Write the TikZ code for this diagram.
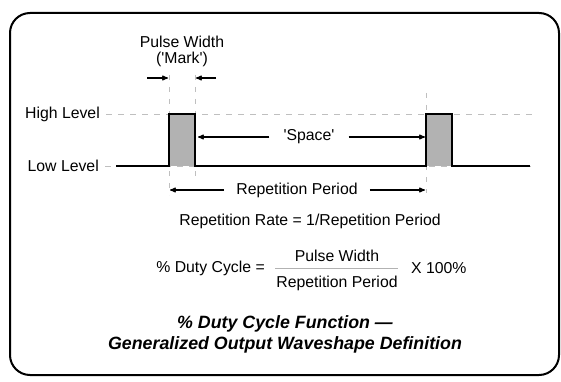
\documentclass[tikz,border=0pt]{standalone}
\usepackage{fontspec}
\setmainfont{Liberation Sans}
\usetikzlibrary{arrows,positioning}

\begin{document}
\begin{tikzpicture}[x=1pt,y=-1pt,>=stealth',
  every node/.style={font=\fontsize{15.8}{18}\selectfont},
  label/.style={inner sep=0pt},
  dim/.style={->,line width=1.1pt,shorten >=1pt},
  level/.style={draw=gray!50,dash pattern=on 6pt off 6pt},
  guide/.style={draw=gray!50,dash pattern=on 5pt off 7pt},
  wave/.style={line width=1.6pt,line join=miter},
  pulsefill/.style={fill=gray!60},
  title/.style={font=\fontsize{17.8}{21}\selectfont\bfseries\itshape,align=center}]
  \useasboundingbox (0,0) rectangle (561,382);
  \draw[line width=2pt,rounded corners=20pt] (10,13) rectangle (559,375);

  \node[label,anchor=east] (high) at (100,114) {High Level};
  \node[label,anchor=east] (low)  at (99,166)  {Low Level};
  \node[label] (pw)   at (182,42) {Pulse Width};
  \node[label] (mark) [below=4pt of pw] {(\textquotesingle Mark\textquotesingle)};

  \coordinate (m1) at (169,166);
  \coordinate (m2) at (195,166);
  \coordinate (s1) at (426,166);
  \coordinate (s2) at (452,166);

  \path[level] ([xshift=6pt]high.east) -- (535,114);
  \path[level] ([xshift=6pt]low.east)  -- (535,166);
  \path[guide] (169,75) -- (169,195);
  \path[guide] (195,75) -- (195,178);
  \path[guide] (426,93) -- (426,193);

  \fill[pulsefill] (169,114) rectangle (195,166);
  \fill[pulsefill] (426,114) rectangle (452,166);
  \draw[wave] (116,166) -- (m1) -- (169,114) -- (195,114) -- (m2)
    -- (s1) -- (426,114) -- (452,114) -- (s2) -- (530,166);

  \coordinate (pwl) at (147,78);
  \coordinate (pwr) at (216,78);
  \draw[dim] (pwl) -- (pwl -| m1);
  \draw[dim] (pwr) -- (pwr -| m2);

  \node[inner xsep=14pt] (space) at (309,137) {\textquotesingle Space\textquotesingle};
  \draw[dim] (space) -- ([xshift=2pt]space -| m2);
  \draw[dim] (space) -- (space -| s1);

  \node[inner xsep=12pt] (period) at (297,190) {Repetition Period};
  \draw[dim] (period) -- (period -| m1);
  \draw[dim] (period) -- (period -| s1);

  \node (rate) at (310,221) {Repetition Rate = 1/Repetition Period};

  \node[label] (num) at (337,256) {Pulse Width};
  \node[label] (den) at (337,283) {Repetition Period};
  \draw[gray!60,line width=0.6pt] (275,268) -- (398,268);
  \node[label,anchor=east] (duty) at (265,268) {\% Duty Cycle =};
  \node[label,anchor=west] (times) at (411,268) {X 100\%};

  \node[title] (head) at (285,334) {\% Duty Cycle Function ---\\Generalized Output Waveshape Definition};
\end{tikzpicture}
\end{document}
